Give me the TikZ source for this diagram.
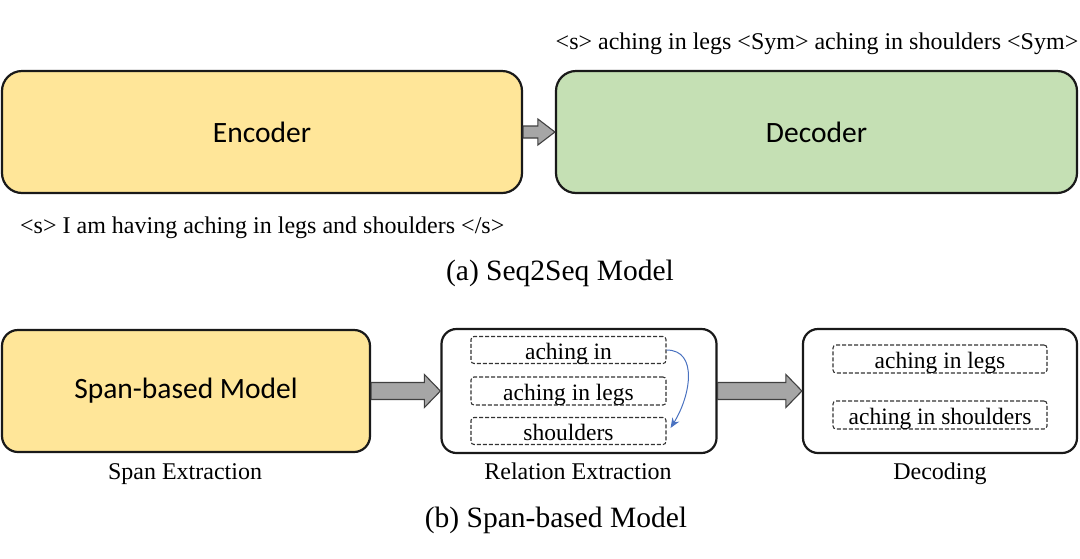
\documentclass[tikz,border=0pt]{standalone}
\usepackage{fontspec}
\setmainfont{Liberation Serif}
\newfontfamily\calfont{Carlito}
\usetikzlibrary{calc,arrows.meta}
\definecolor{encyellow}{HTML}{FFE699}
\definecolor{decgreen}{HTML}{C5E0B4}
\definecolor{arrgray}{HTML}{A6A6A6}
\definecolor{curveblue}{HTML}{4A72C0}
\tikzset{
  bigbox/.style={draw=black!90, line width=2.2pt, rounded corners=20pt, inner sep=0pt, font=\calfont\fontsize{29.5}{34}\selectfont},
  midbox/.style={draw=black!90, line width=2.2pt, rounded corners=15pt, inner sep=0pt},
  spanbox/.style={draw=black!80, dash pattern=on 4pt off 2pt, line width=1.1pt, rounded corners=3pt, inner sep=0pt, text height=20pt, text depth=1pt, font=\fontsize{23.5}{26}\selectfont},
  lbl/.style={inner sep=0pt, anchor=base, font=\fontsize{24}{28}\selectfont},
  captxt/.style={inner sep=0pt, anchor=base, font=\fontsize{29.5}{34}\selectfont},
  fatarrow/.style={draw=black!75, fill=arrgray, line width=1.1pt, line join=miter},
  curvearrow/.style={draw=curveblue, line width=1pt, -{Stealth[length=10pt,width=8pt]}}
}
\begin{document}
\begin{tikzpicture}[x=1pt,y=-1pt]
\useasboundingbox (0,0) rectangle (1080,558);
% (a) Seq2Seq
\node[bigbox, fill=encyellow, minimum width=520pt, minimum height=122pt] (enc) at (262,132) {Encoder};
\node[bigbox, fill=decgreen, minimum width=521pt, minimum height=122pt] (dec) at (816.5,132) {Decoder};
\draw[fatarrow] ($(enc.east)+(0,-6)$) -- ($(dec.west)+(-17,-6)$) -- ($(dec.west)+(-17,-13)$) -- (dec.west)
  -- ($(dec.west)+(-17,13)$) -- ($(dec.west)+(-17,6)$) -- ($(enc.east)+(0,6)$) -- cycle;
\node[lbl] (outtxt) at (817,49) {<s> aching in legs <Sym> aching in shoulders <Sym>};
\node[lbl, anchor=base west] (intxt) at (20,233) {<s> I am having aching in legs and shoulders </s>};
\node[captxt] (capa) at (560,280) {(a) Seq2Seq Model};
% (b) Span-based
\node[bigbox, rounded corners=16pt, fill=encyellow, minimum width=368pt, minimum height=122pt] (span) at (186,391) {Span-based Model};
\node[midbox, minimum width=275pt, minimum height=124pt] (rel) at (579,391) {};
\node[midbox, minimum width=274pt, minimum height=124pt] (deco) at (940,391) {};
\node[spanbox, minimum width=195pt, minimum height=27pt] (r1) at (568.5,350) {aching in};
\node[spanbox, minimum width=195pt, minimum height=28pt] (r2) at (568.5,391) {aching in legs};
\node[spanbox, minimum width=195pt, minimum height=27pt] (r3) at (568.5,431) {shoulders};
\node[spanbox, minimum width=214pt, minimum height=28pt] (d1) at (940,359) {aching in legs};
\node[spanbox, minimum width=214pt, minimum height=28pt] (d2) at (940,415) {aching in shoulders};
\coordinate (cend) at ($(r3.east)+(4,-3)$);
\draw[curvearrow] (r1.east) .. controls +(32,0) and +(20,-32) .. (cend);
\draw[fatarrow] ($(span.east)+(0,-8.5)$) -- ($(rel.west)+(-16,-8.5)$) -- ($(rel.west)+(-16,-16.5)$) -- (rel.west)
  -- ($(rel.west)+(-16,16.5)$) -- ($(rel.west)+(-16,8.5)$) -- ($(span.east)+(0,8.5)$) -- cycle;
\draw[fatarrow] ($(rel.east)+(0,-8.5)$) -- ($(deco.west)+(-16,-8.5)$) -- ($(deco.west)+(-16,-16.5)$) -- (deco.west)
  -- ($(deco.west)+(-16,16.5)$) -- ($(deco.west)+(-16,8.5)$) -- ($(rel.east)+(0,8.5)$) -- cycle;
\node[lbl] (lspan) at (185,479) {Span Extraction};
\node[lbl] (lrel) at (578,479) {Relation Extraction};
\node[lbl] (ldec) at (940,479) {Decoding};
\node[captxt] (capb) at (556,527) {(b) Span-based Model};
\end{tikzpicture}
\end{document}
